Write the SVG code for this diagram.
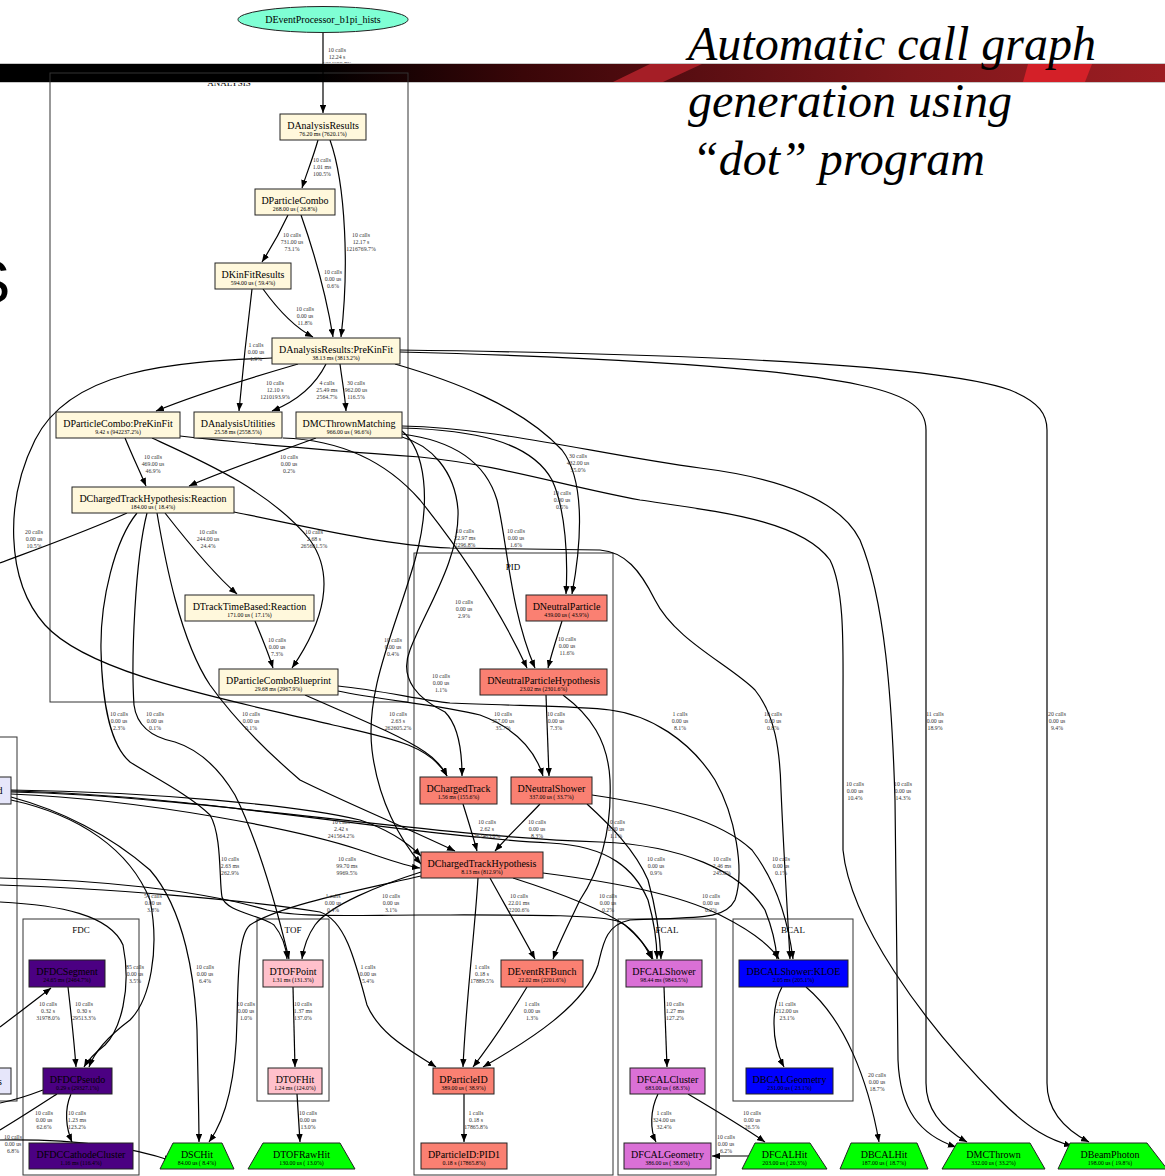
<svg xmlns="http://www.w3.org/2000/svg" width="1165" height="1176" viewBox="0 0 1165 1176">
<defs>
<linearGradient id="bar" x1="0" y1="0" x2="1165" y2="0" gradientUnits="userSpaceOnUse">
<stop offset="0" stop-color="#000"/><stop offset="0.27" stop-color="#000"/><stop offset="0.45" stop-color="#3a0608"/><stop offset="0.6" stop-color="#5a0e12"/><stop offset="0.78" stop-color="#7e171b"/><stop offset="1" stop-color="#9c1d22"/>
</linearGradient>
<marker id="a" viewBox="0 0 10 8" refX="10" refY="4" markerWidth="8" markerHeight="6.4" markerUnits="userSpaceOnUse" orient="auto"><path d="M0,0L10,4L0,8z" fill="#000"/></marker>
<style>
.cl{fill:none;stroke:#333;stroke-width:1}
.clt{font-family:"Liberation Serif",serif;font-size:9px;text-anchor:middle;fill:#000}
.e path{fill:none;stroke:#000;stroke-width:1.2;marker-end:url(#a)}
.e path.na{marker-end:none}
.l{font-family:"Liberation Serif",serif;font-size:5.8px;text-anchor:middle;fill:#333}
.nd rect,.nd polygon,.nd ellipse{stroke:#222;stroke-width:1}
.m{font-family:"Liberation Serif",serif;font-size:10px;text-anchor:middle;fill:#000}
.s{font-family:"Liberation Serif",serif;font-size:5.8px;text-anchor:middle;fill:#000}
.an{fill:#fff8dc}.pid{fill:#fa8072}.fc{fill:#da70d6}.bc{fill:#0000ff}.fd{fill:#4b0082}.tf{fill:#ffc0cb}.hit{fill:#00ff00}.lv{fill:#e6e6fa}
.t{font-family:"Liberation Serif",serif;font-style:italic;font-size:48px;fill:#000}
</style>
</defs>
<rect width="1165" height="1176" fill="#fff"/>
<text x="-31" y="303" font-family="Liberation Sans,sans-serif" font-size="62">S</text>
<text class="clt" x="229" y="85.5" font-size="8">ANALYSIS</text>
<text class="l" x="337" y="52"><tspan x="337">10 calls</tspan><tspan x="337" dy="7">12.24 s</tspan><tspan x="337" dy="7">1224699.7%</tspan></text>
<g id="bar-band">
<rect x="0" y="64" width="1165" height="18" fill="url(#bar)"/>
<polygon points="650,64 702,64 663,82 613,82" fill="#b4222a" opacity="0.85"/>
<polygon points="1028,64 1092,64 1085,82 1023,82" fill="#d42028"/>
<line x1="0" y1="63.5" x2="1165" y2="63.5" stroke="#c8c8c8" stroke-width="1"/>
<line x1="0" y1="82.5" x2="1165" y2="82.5" stroke="#c8c8c8" stroke-width="1"/>
</g>
<g id="title">
<text class="t" x="688" y="60">Automatic call graph</text>
<text class="t" x="688" y="117">generation using</text>
<text class="t" x="692" y="175">“dot” program</text>
</g>
<g id="clusters">
<rect class="cl" x="50" y="73" width="358" height="629"/>
<rect class="cl" x="414" y="553" width="199" height="622"/>
<text class="clt" x="513" y="570">PID</text>
<rect class="cl" x="23" y="919" width="116" height="256"/>
<text class="clt" x="81" y="933">FDC</text>
<rect class="cl" x="257" y="919" width="72" height="182"/>
<text class="clt" x="293" y="933">TOF</text>
<rect class="cl" x="618" y="919" width="98" height="256"/>
<text class="clt" x="667" y="933">FCAL</text>
<rect class="cl" x="733" y="919" width="120" height="182"/>
<text class="clt" x="793" y="933">BCAL</text>
<rect class="cl" x="-2" y="737" width="19" height="364"/>
</g>
<g id="connectors" class="e">
<path d="M323,33 L323,113"/>
<path d="M318,140 C313,158 306,175 302,188"/>
<path d="M330,140 C346,185 349,270 341,337"/>
<path d="M288,215 C281,230 271,248 262,262"/>
<path d="M301,215 C314,252 327,300 333,337"/>
<path d="M263,289 C276,307 292,326 313,337"/>
<path d="M252,289 C247,330 242,378 239,411"/>
<path d="M298,364 C250,378 195,395 156,411"/>
<path d="M326,364 C316,384 297,401 272,411"/>
<path d="M340,364 C342,380 345,396 346,411"/>
<path d="M400,352 C560,356 760,364 860,385 C912,396 926,410 926,430 L926,1083 C926,1112 945,1130 967,1142"/>
<path d="M400,350 C640,353 930,362 1010,390 C1040,402 1047,415 1047,430 L1047,1083 C1047,1112 1066,1130 1089,1142"/>
<path d="M395,364 C450,380 520,405 562,450 C585,480 582,540 572,594"/>
<path d="M272,358 C170,362 70,370 35,440 C5,500 5,580 45,625 C90,675 230,700 333,725 C390,738 430,745 447,776"/>
<path d="M125,438 C132,455 140,472 146,486"/>
<path d="M316,438 C270,455 220,472 189,486"/>
<path class="na" d="M127,513 C90,530 40,548 0,563"/>
<path d="M165,513 C190,545 215,575 237,594"/>
<path d="M152,438 C200,460 270,490 310,540 C335,575 325,620 292,668"/>
<path d="M255,621 C262,638 268,652 273,668"/>
<path d="M402,437 C430,445 455,470 458,510 C460,560 425,610 410,650 C398,680 420,700 445,712 C458,725 462,750 462,776"/>
<path d="M402,428 C470,430 530,440 552,480 C566,510 568,560 566,594"/>
<path d="M402,434 C450,440 485,460 497,500 C507,540 510,610 535,668"/>
<path d="M402,431 C425,450 432,500 415,560 C395,630 365,690 372,750 C378,800 400,840 421,864"/>
<path d="M402,426 C500,428 600,455 700,468 C780,478 840,500 860,540 C885,600 892,700 895,800 L898,1060 C900,1110 920,1135 956,1147"/>
<path d="M180,436 C260,445 350,452 420,457 C500,465 560,485 640,500 C720,512 800,520 830,560 C845,590 843,650 843,700 L843,850 C850,920 920,1020 1000,1100 C1030,1130 1050,1140 1072,1146"/>
<path d="M283,438 C340,440 385,460 420,500 C460,550 500,610 527,668"/>
<path d="M234,512 C300,525 380,545 450,548 L600,550 C625,552 640,570 655,600 C675,640 730,665 755,690 C775,715 780,750 781,790 C784,860 788,920 790,959"/>
<path d="M563,695 C590,715 608,740 610,780 C612,830 600,870 580,900 C568,925 558,945 553,959"/>
<path d="M338,686 C380,690 420,700 450,703 C520,706 580,706 610,710 C650,715 690,740 715,780 C735,815 745,870 735,900 C725,920 700,917 630,920 C605,925 603,945 598,965 C585,1005 530,1040 483,1067"/>
<path d="M338,691 C380,700 440,705 480,715 C515,728 535,750 543,776"/>
<path d="M305,695 C350,715 400,735 425,752 C437,760 443,768 447,776"/>
<path d="M546,695 L549,776"/>
<path d="M562,621 C557,637 552,652 548,668"/>
<path d="M137,513 C115,540 100,600 101,650 C102,700 110,745 130,762 C150,775 190,795 210,815 C222,835 219,880 222,897 C226,912 260,915 274,925 C282,935 286,945 287,959"/>
<path d="M147,513 C135,560 131,660 134,705 C137,728 155,738 175,742 C200,750 220,770 235,795 C250,825 270,880 289,959"/>
<path d="M157,513 C165,560 180,640 210,685 C235,720 265,750 300,780 C340,800 400,825 455,851"/>
<path d="M11,790 C150,792 300,805 360,820 C390,830 410,845 421,856"/>
<path d="M11,791 C200,795 400,835 550,843 C610,846 635,870 648,900 C655,925 657,945 657,959"/>
<path d="M11,792 C200,796 420,836 600,842 C680,845 740,870 765,910 C773,930 776,945 777,959"/>
<path d="M11,794 C150,800 300,830 360,850 C390,860 405,866 420,868"/>
<path d="M11,797 C60,810 110,835 150,870 C185,910 195,980 197,1030 C198,1080 199,1120 199,1142"/>
<path d="M11,800 C80,815 130,850 150,900 C160,950 150,1000 130,1020 C110,1035 95,1050 89,1067"/>
<path d="M0,902 C60,905 110,915 123,945 C132,990 120,1030 105,1045 C95,1053 88,1060 84,1067"/>
<path d="M0,878 C100,880 200,890 267,910 C300,918 360,915 420,915 C520,915 600,914 620,922 C635,930 645,945 652,959"/>
<path d="M0,885 C100,888 250,900 320,912 C345,920 355,960 367,1005 C380,1035 410,1050 436,1067"/>
<path d="M421,872 C380,885 330,905 315,925 C308,935 304,945 302,959"/>
<path d="M421,876 C360,890 280,905 250,925 C238,935 238,980 237,1020 C236,1080 225,1120 209,1142"/>
<path d="M478,878 C475,930 466,1000 463,1067"/>
<path d="M490,878 C505,905 522,935 535,959"/>
<path d="M513,878 C560,893 600,908 625,925 C640,938 648,948 653,959"/>
<path d="M543,873 C620,883 680,895 720,915 C750,930 770,945 779,959"/>
<path d="M587,804 C610,825 635,850 648,880 C655,905 660,935 661,959"/>
<path d="M592,795 C660,805 720,820 752,850 C775,880 788,920 793,959"/>
<path d="M463,804 C468,820 473,836 477,851"/>
<path d="M540,804 C525,820 508,836 495,851"/>
<path d="M0,1027 C20,1012 38,998 51,988"/>
<path d="M68,987 C71,1013 74,1040 76,1067"/>
<path class="na" d="M57,1094 C40,1105 20,1118 0,1130"/>
<path class="na" d="M43,1090 C30,1095 15,1100 0,1103"/>
<path d="M71,1094 C64,1110 66,1128 72,1142"/>
<path d="M0,1140 C60,1139 120,1143 172,1161"/>
<path d="M293,987 L295,1067"/>
<path d="M297,1094 L300,1142"/>
<path d="M664,987 L667,1067"/>
<path d="M658,1094 C650,1110 650,1130 656,1142"/>
<path d="M688,1094 C715,1110 745,1128 765,1142"/>
<path d="M755,1156 L712,1156"/>
<path d="M782,987 C772,1005 770,1040 784,1067"/>
<path d="M806,987 C845,1020 868,1080 879,1142"/>
<path d="M464,1094 L464,1142"/>
<path d="M527,987 C510,1015 490,1045 473,1067"/>
</g>
<g id="edge-labels">
<text class="l" x="322" y="162"><tspan x="322">10 calls</tspan><tspan x="322" dy="7">1.01 ms</tspan><tspan x="322" dy="7">100.5%</tspan></text>
<text class="l" x="361" y="237"><tspan x="361">10 calls</tspan><tspan x="361" dy="7">12.17 s</tspan><tspan x="361" dy="7">1216769.7%</tspan></text>
<text class="l" x="292" y="237"><tspan x="292">10 calls</tspan><tspan x="292" dy="7">731.00 us</tspan><tspan x="292" dy="7">73.1%</tspan></text>
<text class="l" x="333" y="274"><tspan x="333">10 calls</tspan><tspan x="333" dy="7">0.00 us</tspan><tspan x="333" dy="7">0.6%</tspan></text>
<text class="l" x="305" y="311"><tspan x="305">10 calls</tspan><tspan x="305" dy="7">0.00 us</tspan><tspan x="305" dy="7">11.8%</tspan></text>
<text class="l" x="256" y="347"><tspan x="256">1 calls</tspan><tspan x="256" dy="7">0.00 us</tspan><tspan x="256" dy="7">1.9%</tspan></text>
<text class="l" x="275" y="385"><tspan x="275">10 calls</tspan><tspan x="275" dy="7">12.10 s</tspan><tspan x="275" dy="7">1210193.9%</tspan></text>
<text class="l" x="327" y="385"><tspan x="327">4 calls</tspan><tspan x="327" dy="7">25.49 ms</tspan><tspan x="327" dy="7">2564.7%</tspan></text>
<text class="l" x="356" y="385"><tspan x="356">30 calls</tspan><tspan x="356" dy="7">962.00 us</tspan><tspan x="356" dy="7">116.5%</tspan></text>
<text class="l" x="153" y="459"><tspan x="153">10 calls</tspan><tspan x="153" dy="7">469.00 us</tspan><tspan x="153" dy="7">46.9%</tspan></text>
<text class="l" x="289" y="459"><tspan x="289">10 calls</tspan><tspan x="289" dy="7">0.00 us</tspan><tspan x="289" dy="7">0.2%</tspan></text>
<text class="l" x="34" y="534"><tspan x="34">20 calls</tspan><tspan x="34" dy="7">0.00 us</tspan><tspan x="34" dy="7">10.5%</tspan></text>
<text class="l" x="208" y="534"><tspan x="208">10 calls</tspan><tspan x="208" dy="7">244.00 us</tspan><tspan x="208" dy="7">24.4%</tspan></text>
<text class="l" x="314" y="534"><tspan x="314">10 calls</tspan><tspan x="314" dy="7">2.68 s</tspan><tspan x="314" dy="7">265601.5%</tspan></text>
<text class="l" x="277" y="642"><tspan x="277">10 calls</tspan><tspan x="277" dy="7">0.00 us</tspan><tspan x="277" dy="7">7.3%</tspan></text>
<text class="l" x="393" y="642"><tspan x="393">10 calls</tspan><tspan x="393" dy="7">0.00 us</tspan><tspan x="393" dy="7">0.4%</tspan></text>
<text class="l" x="119" y="716"><tspan x="119">10 calls</tspan><tspan x="119" dy="7">0.00 us</tspan><tspan x="119" dy="7">2.3%</tspan></text>
<text class="l" x="155" y="716"><tspan x="155">10 calls</tspan><tspan x="155" dy="7">0.00 us</tspan><tspan x="155" dy="7">0.1%</tspan></text>
<text class="l" x="251" y="716"><tspan x="251">10 calls</tspan><tspan x="251" dy="7">0.00 us</tspan><tspan x="251" dy="7">0.1%</tspan></text>
<text class="l" x="398" y="716"><tspan x="398">10 calls</tspan><tspan x="398" dy="7">2.63 s</tspan><tspan x="398" dy="7">262605.2%</tspan></text>
<text class="l" x="578" y="458"><tspan x="578">30 calls</tspan><tspan x="578" dy="7">432.00 us</tspan><tspan x="578" dy="7">55.0%</tspan></text>
<text class="l" x="562" y="495"><tspan x="562">10 calls</tspan><tspan x="562" dy="7">0.00 us</tspan><tspan x="562" dy="7">0.5%</tspan></text>
<text class="l" x="465" y="533"><tspan x="465">10 calls</tspan><tspan x="465" dy="7">22.97 ms</tspan><tspan x="465" dy="7">2296.8%</tspan></text>
<text class="l" x="516" y="533"><tspan x="516">10 calls</tspan><tspan x="516" dy="7">0.00 us</tspan><tspan x="516" dy="7">1.6%</tspan></text>
<text class="l" x="464" y="604"><tspan x="464">10 calls</tspan><tspan x="464" dy="7">0.00 us</tspan><tspan x="464" dy="7">2.9%</tspan></text>
<text class="l" x="567" y="641"><tspan x="567">10 calls</tspan><tspan x="567" dy="7">0.00 us</tspan><tspan x="567" dy="7">11.6%</tspan></text>
<text class="l" x="441" y="678"><tspan x="441">10 calls</tspan><tspan x="441" dy="7">0.00 us</tspan><tspan x="441" dy="7">1.1%</tspan></text>
<text class="l" x="503" y="716"><tspan x="503">10 calls</tspan><tspan x="503" dy="7">357.00 us</tspan><tspan x="503" dy="7">35.7%</tspan></text>
<text class="l" x="556" y="716"><tspan x="556">10 calls</tspan><tspan x="556" dy="7">0.00 us</tspan><tspan x="556" dy="7">7.3%</tspan></text>
<text class="l" x="680" y="716"><tspan x="680">1 calls</tspan><tspan x="680" dy="7">0.00 us</tspan><tspan x="680" dy="7">8.1%</tspan></text>
<text class="l" x="773" y="716"><tspan x="773">10 calls</tspan><tspan x="773" dy="7">0.00 us</tspan><tspan x="773" dy="7">0.8%</tspan></text>
<text class="l" x="935" y="716"><tspan x="935">11 calls</tspan><tspan x="935" dy="7">0.00 us</tspan><tspan x="935" dy="7">18.9%</tspan></text>
<text class="l" x="1057" y="716"><tspan x="1057">20 calls</tspan><tspan x="1057" dy="7">0.00 us</tspan><tspan x="1057" dy="7">9.4%</tspan></text>
<text class="l" x="855" y="786"><tspan x="855">10 calls</tspan><tspan x="855" dy="7">0.00 us</tspan><tspan x="855" dy="7">10.4%</tspan></text>
<text class="l" x="903" y="786"><tspan x="903">10 calls</tspan><tspan x="903" dy="7">0.00 us</tspan><tspan x="903" dy="7">14.3%</tspan></text>
<text class="l" x="341" y="824"><tspan x="341">10 calls</tspan><tspan x="341" dy="7">2.42 s</tspan><tspan x="341" dy="7">241564.2%</tspan></text>
<text class="l" x="487" y="824"><tspan x="487">10 calls</tspan><tspan x="487" dy="7">2.62 s</tspan><tspan x="487" dy="7">262463.0%</tspan></text>
<text class="l" x="537" y="824"><tspan x="537">10 calls</tspan><tspan x="537" dy="7">0.00 us</tspan><tspan x="537" dy="7">8.3%</tspan></text>
<text class="l" x="616" y="824"><tspan x="616">10 calls</tspan><tspan x="616" dy="7">0.00 us</tspan><tspan x="616" dy="7">1.1%</tspan></text>
<text class="l" x="230" y="861"><tspan x="230">10 calls</tspan><tspan x="230" dy="7">2.63 ms</tspan><tspan x="230" dy="7">262.9%</tspan></text>
<text class="l" x="347" y="861"><tspan x="347">10 calls</tspan><tspan x="347" dy="7">99.70 ms</tspan><tspan x="347" dy="7">9969.5%</tspan></text>
<text class="l" x="656" y="861"><tspan x="656">10 calls</tspan><tspan x="656" dy="7">0.00 us</tspan><tspan x="656" dy="7">0.9%</tspan></text>
<text class="l" x="722" y="861"><tspan x="722">10 calls</tspan><tspan x="722" dy="7">2.46 ms</tspan><tspan x="722" dy="7">245.8%</tspan></text>
<text class="l" x="781" y="861"><tspan x="781">10 calls</tspan><tspan x="781" dy="7">0.00 us</tspan><tspan x="781" dy="7">0.1%</tspan></text>
<text class="l" x="153" y="898"><tspan x="153">54 calls</tspan><tspan x="153" dy="7">0.00 us</tspan><tspan x="153" dy="7">3.8%</tspan></text>
<text class="l" x="333" y="898"><tspan x="333">1 calls</tspan><tspan x="333" dy="7">0.00 us</tspan><tspan x="333" dy="7">0.4%</tspan></text>
<text class="l" x="391" y="898"><tspan x="391">10 calls</tspan><tspan x="391" dy="7">0.00 us</tspan><tspan x="391" dy="7">3.1%</tspan></text>
<text class="l" x="519" y="898"><tspan x="519">10 calls</tspan><tspan x="519" dy="7">22.01 ms</tspan><tspan x="519" dy="7">2200.6%</tspan></text>
<text class="l" x="608" y="898"><tspan x="608">10 calls</tspan><tspan x="608" dy="7">0.00 us</tspan><tspan x="608" dy="7">0.2%</tspan></text>
<text class="l" x="711" y="898"><tspan x="711">10 calls</tspan><tspan x="711" dy="7">0.00 us</tspan><tspan x="711" dy="7">0.2%</tspan></text>
<text class="l" x="135" y="969"><tspan x="135">85 calls</tspan><tspan x="135" dy="7">0.00 us</tspan><tspan x="135" dy="7">3.5%</tspan></text>
<text class="l" x="205" y="969"><tspan x="205">10 calls</tspan><tspan x="205" dy="7">0.00 us</tspan><tspan x="205" dy="7">6.4%</tspan></text>
<text class="l" x="368" y="969"><tspan x="368">1 calls</tspan><tspan x="368" dy="7">0.00 us</tspan><tspan x="368" dy="7">5.4%</tspan></text>
<text class="l" x="482" y="969"><tspan x="482">1 calls</tspan><tspan x="482" dy="7">0.18 s</tspan><tspan x="482" dy="7">17889.5%</tspan></text>
<text class="l" x="48" y="1006"><tspan x="48">10 calls</tspan><tspan x="48" dy="7">0.32 s</tspan><tspan x="48" dy="7">31978.0%</tspan></text>
<text class="l" x="84" y="1006"><tspan x="84">10 calls</tspan><tspan x="84" dy="7">0.30 s</tspan><tspan x="84" dy="7">29513.3%</tspan></text>
<text class="l" x="246" y="1006"><tspan x="246">10 calls</tspan><tspan x="246" dy="7">0.00 us</tspan><tspan x="246" dy="7">1.0%</tspan></text>
<text class="l" x="303" y="1006"><tspan x="303">10 calls</tspan><tspan x="303" dy="7">1.37 ms</tspan><tspan x="303" dy="7">137.0%</tspan></text>
<text class="l" x="532" y="1006"><tspan x="532">1 calls</tspan><tspan x="532" dy="7">0.00 us</tspan><tspan x="532" dy="7">1.3%</tspan></text>
<text class="l" x="675" y="1006"><tspan x="675">10 calls</tspan><tspan x="675" dy="7">1.27 ms</tspan><tspan x="675" dy="7">127.2%</tspan></text>
<text class="l" x="787" y="1006"><tspan x="787">11 calls</tspan><tspan x="787" dy="7">212.00 us</tspan><tspan x="787" dy="7">23.1%</tspan></text>
<text class="l" x="877" y="1077"><tspan x="877">20 calls</tspan><tspan x="877" dy="7">0.00 us</tspan><tspan x="877" dy="7">18.7%</tspan></text>
<text class="l" x="44" y="1115"><tspan x="44">10 calls</tspan><tspan x="44" dy="7">0.00 us</tspan><tspan x="44" dy="7">62.6%</tspan></text>
<text class="l" x="77" y="1115"><tspan x="77">10 calls</tspan><tspan x="77" dy="7">1.23 ms</tspan><tspan x="77" dy="7">123.2%</tspan></text>
<text class="l" x="308" y="1115"><tspan x="308">10 calls</tspan><tspan x="308" dy="7">0.00 us</tspan><tspan x="308" dy="7">13.0%</tspan></text>
<text class="l" x="476" y="1115"><tspan x="476">1 calls</tspan><tspan x="476" dy="7">0.18 s</tspan><tspan x="476" dy="7">17865.8%</tspan></text>
<text class="l" x="664" y="1115"><tspan x="664">1 calls</tspan><tspan x="664" dy="7">324.00 us</tspan><tspan x="664" dy="7">32.4%</tspan></text>
<text class="l" x="752" y="1115"><tspan x="752">10 calls</tspan><tspan x="752" dy="7">0.00 us</tspan><tspan x="752" dy="7">26.5%</tspan></text>
<text class="l" x="13" y="1139"><tspan x="13">10 calls</tspan><tspan x="13" dy="7">0.00 us</tspan><tspan x="13" dy="7">6.8%</tspan></text>
<text class="l" x="726" y="1139"><tspan x="726">10 calls</tspan><tspan x="726" dy="7">0.00 us</tspan><tspan x="726" dy="7">6.2%</tspan></text>
</g>
<g id="n_root" class="nd"><ellipse cx="323" cy="19.5" rx="85" ry="13" fill="#7fffd4"/><text class="m" x="323" y="23">DEventProcessor_b1pi_hists</text></g>
<g id="n_ar" class="nd"><rect class="an" x="280" y="114" width="86" height="26"/><text class="m" x="323" y="129">DAnalysisResults</text><text class="s" x="323" y="135.5">76.20 ms (7620.1%)</text></g>
<g id="n_pc" class="nd"><rect class="an" x="255" y="189" width="80" height="26"/><text class="m" x="295" y="204">DParticleCombo</text><text class="s" x="295" y="210.5">268.00 us ( 26.8%)</text></g>
<g id="n_kf" class="nd"><rect class="an" x="215" y="263" width="76" height="26"/><text class="m" x="253" y="278">DKinFitResults</text><text class="s" x="253" y="284.5">594.00 us ( 59.4%)</text></g>
<g id="n_pk" class="nd"><rect class="an" x="272" y="338" width="128" height="26"/><text class="m" x="336" y="353">DAnalysisResults:PreKinFit</text><text class="s" x="336" y="359.5">38.13 ms (3813.2%)</text></g>
<g id="n_pcpk" class="nd"><rect class="an" x="56" y="412" width="124" height="26"/><text class="m" x="118" y="427">DParticleCombo:PreKinFit</text><text class="s" x="118" y="433.5">9.42 s (942237.2%)</text></g>
<g id="n_au" class="nd"><rect class="an" x="194" y="412" width="88" height="26"/><text class="m" x="238" y="427">DAnalysisUtilities</text><text class="s" x="238" y="433.5">25.58 ms (2558.5%)</text></g>
<g id="n_mctm" class="nd"><rect class="an" x="296" y="412" width="106" height="26"/><text class="m" x="349" y="427">DMCThrownMatching</text><text class="s" x="349" y="433.5">966.00 us ( 96.6%)</text></g>
<g id="n_cthr" class="nd"><rect class="an" x="72" y="487" width="162" height="26"/><text class="m" x="153" y="502">DChargedTrackHypothesis:Reaction</text><text class="s" x="153" y="508.5">184.00 us ( 18.4%)</text></g>
<g id="n_ttbr" class="nd"><rect class="an" x="185" y="595" width="129" height="26"/><text class="m" x="249.5" y="610">DTrackTimeBased:Reaction</text><text class="s" x="249.5" y="616.5">171.00 us ( 17.1%)</text></g>
<g id="n_pcb" class="nd"><rect class="an" x="219" y="669" width="119" height="26"/><text class="m" x="278.5" y="684">DParticleComboBlueprint</text><text class="s" x="278.5" y="690.5">29.68 ms (2967.9%)</text></g>
<g id="n_np" class="nd"><rect class="pid" x="526" y="595" width="81" height="26"/><text class="m" x="566.5" y="610">DNeutralParticle</text><text class="s" x="566.5" y="616.5">439.00 us ( 43.9%)</text></g>
<g id="n_nph" class="nd"><rect class="pid" x="480" y="669" width="127" height="26"/><text class="m" x="543.5" y="684">DNeutralParticleHypothesis</text><text class="s" x="543.5" y="690.5">23.02 ms (2301.6%)</text></g>
<g id="n_ct" class="nd"><rect class="pid" x="420" y="777" width="77" height="27"/><text class="m" x="458.5" y="792">DChargedTrack</text><text class="s" x="458.5" y="798.5">1.56 ms (155.6%)</text></g>
<g id="n_ns" class="nd"><rect class="pid" x="511" y="777" width="81" height="27"/><text class="m" x="551.5" y="792">DNeutralShower</text><text class="s" x="551.5" y="798.5">337.00 us ( 33.7%)</text></g>
<g id="n_cth" class="nd"><rect class="pid" x="421" y="852" width="122" height="26"/><text class="m" x="482" y="867">DChargedTrackHypothesis</text><text class="s" x="482" y="873.5">8.13 ms (812.9%)</text></g>
<g id="n_rf" class="nd"><rect class="pid" x="501" y="960" width="82" height="27"/><text class="m" x="542" y="975">DEventRFBunch</text><text class="s" x="542" y="981.5">22.02 ms (2201.6%)</text></g>
<g id="n_pid" class="nd"><rect class="pid" x="433" y="1068" width="61" height="26"/><text class="m" x="463.5" y="1083">DParticleID</text><text class="s" x="463.5" y="1089.5">389.00 us ( 38.9%)</text></g>
<g id="n_pid1" class="nd"><rect class="pid" x="421" y="1143" width="86" height="26"/><text class="m" x="464" y="1158">DParticleID:PID1</text><text class="s" x="464" y="1164.5">0.18 s (17865.8%)</text></g>
<g id="n_fs" class="nd"><rect class="fc" x="626" y="960" width="76" height="27"/><text class="m" x="664" y="975">DFCALShower</text><text class="s" x="664" y="981.5">98.44 ms (9843.5%)</text></g>
<g id="n_fc" class="nd"><rect class="fc" x="630" y="1068" width="75" height="26"/><text class="m" x="667.5" y="1083">DFCALCluster</text><text class="s" x="667.5" y="1089.5">683.00 us ( 68.3%)</text></g>
<g id="n_fg" class="nd"><rect class="fc" x="624" y="1143" width="87" height="26"/><text class="m" x="667.5" y="1158">DFCALGeometry</text><text class="s" x="667.5" y="1164.5">386.00 us ( 38.6%)</text></g>
<g id="n_bs" class="nd"><rect class="bc" x="739" y="960" width="109" height="27"/><text class="m" x="793.5" y="975">DBCALShower:KLOE</text><text class="s" x="793.5" y="981.5">2.05 ms (205.1%)</text></g>
<g id="n_bg" class="nd"><rect class="bc" x="746" y="1068" width="87" height="26"/><text class="m" x="789.5" y="1083">DBCALGeometry</text><text class="s" x="789.5" y="1089.5">231.00 us ( 23.1%)</text></g>
<g id="n_fseg" class="nd"><rect class="fd" x="29" y="960" width="76" height="27"/><text class="m" x="67" y="975">DFDCSegment</text><text class="s" x="67" y="981.5">24.65 ms (2464.7%)</text></g>
<g id="n_fp" class="nd"><rect class="fd" x="43" y="1068" width="69" height="26"/><text class="m" x="77.5" y="1083">DFDCPseudo</text><text class="s" x="77.5" y="1089.5">0.29 s (29327.1%)</text></g>
<g id="n_fcc" class="nd"><rect class="fd" x="29" y="1143" width="104" height="26"/><text class="m" x="81" y="1158">DFDCCathodeCluster</text><text class="s" x="81" y="1164.5">1.16 ms (116.4%)</text></g>
<g id="n_tp" class="nd"><rect class="tf" x="263" y="960" width="60" height="27"/><text class="m" x="293" y="975">DTOFPoint</text><text class="s" x="293" y="981.5">1.31 ms (131.3%)</text></g>
<g id="n_th" class="nd"><rect class="tf" x="268" y="1068" width="54" height="26"/><text class="m" x="295" y="1083">DTOFHit</text><text class="s" x="295" y="1089.5">1.24 ms (124.0%)</text></g>
<g id="n_sch" class="nd"><polygon class="hit" points="160,1169 173,1143 222,1143 234,1169"/><text class="m" x="197" y="1158">DSCHit</text><text class="s" x="197" y="1165">84.00 us ( 8.4%)</text></g>
<g id="n_trh" class="nd"><polygon class="hit" points="248,1169 263,1143 340,1143 355,1169"/><text class="m" x="301.5" y="1158">DTOFRawHit</text><text class="s" x="301.5" y="1165">130.00 us ( 13.0%)</text></g>
<g id="n_fh" class="nd"><polygon class="hit" points="742,1169 755,1143 810,1143 827,1169"/><text class="m" x="784.5" y="1158">DFCALHit</text><text class="s" x="784.5" y="1165">203.00 us ( 20.3%)</text></g>
<g id="n_bh" class="nd"><polygon class="hit" points="840,1169 851,1143 917,1143 928,1169"/><text class="m" x="884" y="1158">DBCALHit</text><text class="s" x="884" y="1165">187.00 us ( 18.7%)</text></g>
<g id="n_mct" class="nd"><polygon class="hit" points="942,1169 957,1143 1030,1143 1045,1169"/><text class="m" x="993.5" y="1158">DMCThrown</text><text class="s" x="993.5" y="1165">332.00 us ( 33.2%)</text></g>
<g id="n_bp" class="nd"><polygon class="hit" points="1058,1169 1070,1143 1147,1143 1167,1169"/><text class="m" x="1110" y="1158">DBeamPhoton</text><text class="s" x="1110" y="1165">198.00 us ( 19.8%)</text></g>
<g id="n_left1" class="nd"><rect class="lv" x="-60" y="777" width="71" height="27"/><text class="m" x="0" y="794" text-anchor="start">d</text></g>
<g id="n_left2" class="nd"><rect class="lv" x="-60" y="1068" width="71" height="26"/><text class="m" x="0" y="1085" text-anchor="start">s</text></g>
</svg>
